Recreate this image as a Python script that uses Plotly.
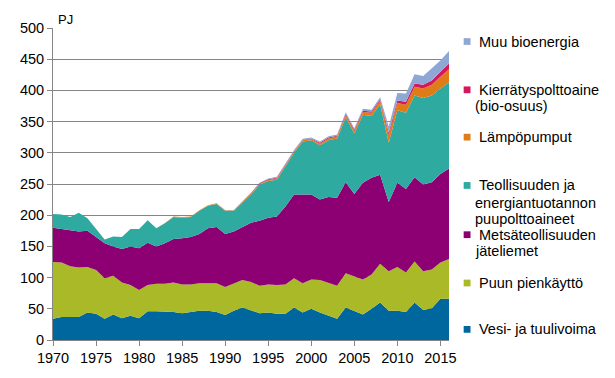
import plotly.graph_objects as go

years = list(range(1970, 2017))

vesi_tuuli = [34, 37, 37, 37, 44, 42, 34, 41, 35, 39,
              35, 46, 46, 46, 45, 43, 45, 47, 47, 45,
              40, 47, 52, 47, 43, 44, 42, 42, 52, 44,
              50, 44, 39, 34, 52, 47, 41, 50, 60, 47,
              47, 45, 60, 48, 51, 66, 66]
puun_pienkaytto = [91, 87, 81, 79, 73, 70, 65, 62, 57, 49,
                   45, 42, 44, 44, 47, 46, 44, 44, 44, 46,
                   45, 44, 44, 46, 44, 45, 46, 47, 47, 47,
                   47, 52, 52, 53, 55, 55, 56, 55, 62, 63,
                   70, 63, 66, 62, 62, 58, 64]
jateliemet = [55, 54, 57, 58, 58, 53, 56, 47, 54, 62,
              67, 68, 60, 65, 70, 74, 76, 79, 88, 90,
              85, 83, 85, 95, 104, 107, 110, 125, 134, 142,
              136, 129, 138, 141, 146, 132, 155, 155, 143, 111,
              135, 134, 135, 139, 140, 142, 145]
puupolttoaineet = [22, 23, 22, 30, 20, 13, 6, 16, 19, 28,
                   31, 36, 29, 32, 35, 33, 32, 37, 36, 37,
                   37, 33, 39, 45, 58, 59, 59, 65, 67, 85,
                   87, 87, 91, 95, 104, 97, 109, 99, 113, 95,
                   116, 122, 131, 139, 139, 137, 138]
lampopumput = [0, 0, 0, 0, 0, 0, 0, 0, 0, 0,
               0, 0, 0, 0.5, 1, 1, 1, 1, 1, 1,
               1, 1, 1.5, 1.5, 1.5, 1.5, 2, 2, 2, 2,
               2, 2.5, 3, 3, 3.5, 4, 4.5, 5, 6, 12,
               12, 13, 14, 15, 17, 19, 21]
kierratys = [0, 0, 0, 0, 0, 0, 0, 0, 0, 0,
             0, 0, 0, 0, 0, 0, 0, 0, 0, 0,
             0, 0, 0, 1, 1, 1, 1, 1, 1, 1,
             1, 1.5, 1.5, 1.5, 2, 2, 2, 2, 2, 4,
             4, 5, 5, 6, 7, 8, 9]
muu_bio = [0, 0, 0, 0, 0, 0, 0, 0, 0, 0,
           0, 0, 0, 0, 0, 0, 0, 0, 0, 0,
           0.5, 0.5, 0.5, 0.5, 0.5, 1.5, 1.5, 1.5, 1.5, 1.5,
           1.5, 2, 2, 2, 2.5, 2.5, 3, 3, 3, 10,
           12, 13, 15, 14, 20, 18, 20]

series = [
    ("Vesi- ja tuulivoima", vesi_tuuli, "#00669E"),
    ("Puun pienkäyttö", puun_pienkaytto, "#A9B927"),
    ("Metsäteollisuuden jäteliemet", jateliemet, "#8C0073"),
    ("Teollisuuden ja energiantuotannon puupolttoaineet", puupolttoaineet, "#2FAAA0"),
    ("Lämpöpumput", lampopumput, "#E07C18"),
    ("Kierrätyspolttoaine (bio-osuus)", kierratys, "#D4175E"),
    ("Muu bioenergia", muu_bio, "#8FA7D5"),
]

legend_lines = [
    (6, [("Muu bioenergia", 38, 478)], 38),
    (5, [("Kierrätyspolttoaine", 88, 478), ("(bio-osuus)", 105, 474)], 88),
    (4, [("Lämpöpumput", 137, 478)], 137),
    (3, [("Teollisuuden ja", 187, 478), ("energiantuotannon", 205, 474),
         ("puupolttoaineet", 222, 474)], 187),
    (2, [("Metsäteollisuuden", 238, 478), ("jäteliemet", 255, 474)], 238),
    (1, [("Puun pienkäyttö", 288, 478)], 288),
    (0, [("Vesi- ja tuulivoima", 336, 478)], 336),
]

fig = go.Figure()
for name, vals, col in series:
    fig.add_trace(go.Scatter(
        x=years, y=vals, name=name, stackgroup="one", mode="lines",
        line=dict(width=0, color=col), fillcolor=col, hoverinfo="skip",
        showlegend=False))

# page body has an 8px margin; work in window pixels and shift
OFF = 8
W, H = 615 - OFF, 378 - OFF
L, R, T, B = 44 - OFF, 449 - OFF, 24 - OFF, 347 - OFF
pw, ph = R - L, B - T

def px_x(x):
    return (x - OFF - L) / pw

def px_y(y):
    return (B - (y - OFF)) / ph

annotations = []
shapes = []
for idx, lines, my in legend_lines:
    col = series[idx][2]
    shapes.append(dict(type="rect", xref="paper", yref="paper",
                       x0=px_x(464), x1=px_x(471), y0=px_y(my + 3.5), y1=px_y(my - 3.5),
                       fillcolor=col, line=dict(width=0)))
    for text, ty, tx in lines:
        annotations.append(dict(text=text, xref="paper", yref="paper",
                                x=px_x(tx), y=px_y(ty), xanchor="left", yanchor="middle",
                                showarrow=False, font=dict(size=14.5, color="#000000")))

annotations.append(dict(text="PJ", xref="paper", yref="paper", x=px_x(47), y=px_y(15),
                        xanchor="left", yanchor="middle", showarrow=False,
                        font=dict(size=13, color="#000000")))

fig.update_layout(
    width=W, height=H,
    margin=dict(l=L, r=W - R, t=T, b=H - B, pad=0),
    paper_bgcolor="white", plot_bgcolor="white",
    font=dict(family="Liberation Sans, Arial, sans-serif", size=14, color="#000000"),
    showlegend=False,
    annotations=annotations,
    shapes=shapes,
    xaxis=dict(range=[1970, 2016], tickmode="array", tickvals=list(range(1970, 2016, 5)),
               ticks="outside", ticklen=5, tickcolor="#868686", showline=True,
               linecolor="#868686", linewidth=1, showgrid=False, zeroline=False,
               tickfont=dict(size=14.5)),
    yaxis=dict(range=[0, 500], dtick=50, ticks="outside", ticklen=5, tickcolor="#868686",
               showline=True, linecolor="#868686", linewidth=1, showgrid=True,
               gridcolor="#868686", gridwidth=1, zeroline=False, tickfont=dict(size=14.5)),
)

fig.write_html("out.html")
